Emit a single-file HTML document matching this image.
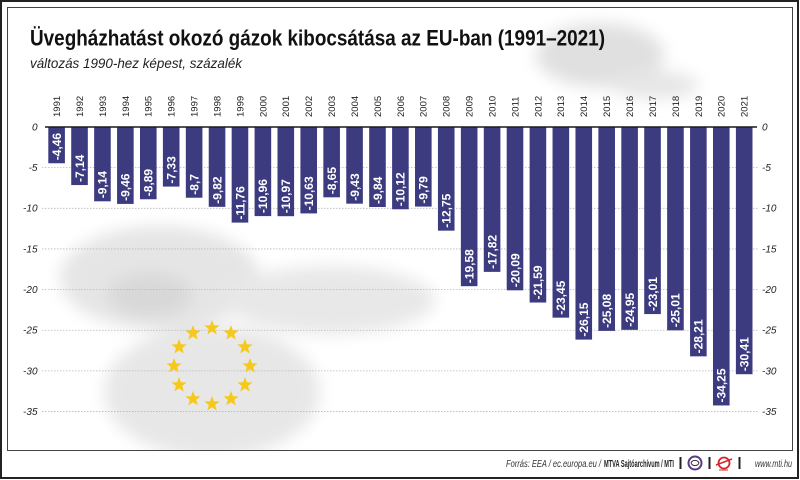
<!DOCTYPE html>
<html><head><meta charset="utf-8"><style>
html,body{margin:0;padding:0;background:#fff;width:800px;height:480px;overflow:hidden}
svg{display:block}
text{font-family:"Liberation Sans",Arial,sans-serif}
</style></head><body>
<svg width="800" height="480" viewBox="0 0 800 480" xmlns="http://www.w3.org/2000/svg">
<defs>
<filter id="bl" x="-50%" y="-50%" width="200%" height="200%"><feGaussianBlur stdDeviation="8"/></filter>
<clipPath id="cp"><rect x="8" y="8" width="784" height="442"/></clipPath>
<polygon id="st" points="0,-8 1.95,-2.7 7.6,-2.47 3.15,1.03 4.7,6.47 0,3.3 -4.7,6.47 -3.15,1.03 -7.6,-2.47 -1.95,-2.7" fill="#f6c819"/>
</defs>
<rect width="800" height="480" fill="#fff"/>
<!-- background blobs -->
<g clip-path="url(#cp)">
<g filter="url(#bl)">
<ellipse cx="160" cy="278" rx="100" ry="52" fill="#e5e5e5"/>
<ellipse cx="330" cy="300" rx="105" ry="34" fill="#e8e8e8"/>
<ellipse cx="212" cy="392" rx="108" ry="66" fill="#e7e7e7"/>
<ellipse cx="150" cy="295" rx="42" ry="22" fill="#d8d8d8"/>
<ellipse cx="600" cy="55" rx="64" ry="32" fill="#e0e0e0"/>
<ellipse cx="655" cy="85" rx="44" ry="14" fill="#e6e6e6"/>
</g>
</g>
<!-- frames -->
<rect x="1" y="1" width="797" height="477" fill="none" stroke="#222" stroke-width="2"/>
<rect x="7.5" y="7.5" width="785" height="443" fill="none" stroke="#444" stroke-width="1"/>
<!-- title -->
<text x="30" y="45.5" font-size="22" font-weight="bold" fill="#111" textLength="575" lengthAdjust="spacingAndGlyphs">Üvegházhatást okozó gázok kibocsátása az EU-ban (1991–2021)</text>
<text x="30" y="68" font-size="14" font-style="italic" fill="#222" textLength="212" lengthAdjust="spacingAndGlyphs">változás 1990-hez képest, százalék</text>
<!-- gridlines -->
<g stroke="#b8b8b8" stroke-width="0.8" stroke-dasharray="1.5,1.5">
<line x1="42" y1="167.65" x2="758" y2="167.65"/>
<line x1="42" y1="208.3" x2="758" y2="208.3"/>
<line x1="42" y1="248.95" x2="758" y2="248.95"/>
<line x1="42" y1="289.6" x2="758" y2="289.6"/>
<line x1="42" y1="330.25" x2="758" y2="330.25"/>
<line x1="42" y1="370.9" x2="758" y2="370.9"/>
<line x1="42" y1="411.55" x2="758" y2="411.55"/>
</g>
<!-- stars -->
<g>
<use href="#st" x="212" y="328"/><use href="#st" x="231" y="333.1"/><use href="#st" x="244.9" y="347"/>
<use href="#st" x="250" y="366"/><use href="#st" x="244.9" y="385"/><use href="#st" x="231" y="398.9"/>
<use href="#st" x="212" y="404"/><use href="#st" x="193" y="398.9"/><use href="#st" x="179.1" y="385"/>
<use href="#st" x="174" y="366"/><use href="#st" x="179.1" y="347"/><use href="#st" x="193" y="333.1"/>
</g>
<!-- axis labels -->
<g font-size="10" font-style="italic" fill="#222" text-anchor="end">
<text x="37.5" y="130.5">0</text><text x="37.5" y="171">-5</text><text x="37.5" y="211.7">-10</text>
<text x="37.5" y="252.4">-15</text><text x="37.5" y="293">-20</text><text x="37.5" y="333.7">-25</text>
<text x="37.5" y="374.4">-30</text><text x="37.5" y="415">-35</text>
</g>
<g font-size="10" font-style="italic" fill="#222">
<text x="762" y="130.5">0</text><text x="762" y="171">-5</text><text x="762" y="211.7">-10</text>
<text x="762" y="252.4">-15</text><text x="762" y="293">-20</text><text x="762" y="333.7">-25</text>
<text x="762" y="374.4">-30</text><text x="762" y="415">-35</text>
</g>
<!-- bars -->
<g fill="#3c3b7f">
<rect x="48.3" y="127" width="16.6" height="36.26"/>
<rect x="71.22" y="127" width="16.6" height="58.05"/>
<rect x="94.14" y="127" width="16.6" height="74.31"/>
<rect x="117.06" y="127" width="16.6" height="76.91"/>
<rect x="139.98" y="127" width="16.6" height="72.28"/>
<rect x="162.9" y="127" width="16.6" height="59.59"/>
<rect x="185.82" y="127" width="16.6" height="70.73"/>
<rect x="208.74" y="127" width="16.6" height="79.84"/>
<rect x="231.66" y="127" width="16.6" height="95.61"/>
<rect x="254.58" y="127" width="16.6" height="89.1"/>
<rect x="277.5" y="127" width="16.6" height="89.19"/>
<rect x="300.42" y="127" width="16.6" height="86.42"/>
<rect x="323.34" y="127" width="16.6" height="70.32"/>
<rect x="346.26" y="127" width="16.6" height="76.67"/>
<rect x="369.18" y="127" width="16.6" height="80"/>
<rect x="392.1" y="127" width="16.6" height="82.28"/>
<rect x="415.02" y="127" width="16.6" height="79.59"/>
<rect x="437.94" y="127" width="16.6" height="103.66"/>
<rect x="460.86" y="127" width="16.6" height="159.19"/>
<rect x="483.78" y="127" width="16.6" height="144.88"/>
<rect x="506.7" y="127" width="16.6" height="163.33"/>
<rect x="529.62" y="127" width="16.6" height="175.53"/>
<rect x="552.54" y="127" width="16.6" height="190.65"/>
<rect x="575.46" y="127" width="16.6" height="212.6"/>
<rect x="598.38" y="127" width="16.6" height="203.9"/>
<rect x="621.3" y="127" width="16.6" height="202.84"/>
<rect x="644.22" y="127" width="16.6" height="187.07"/>
<rect x="667.14" y="127" width="16.6" height="203.33"/>
<rect x="690.06" y="127" width="16.6" height="229.35"/>
<rect x="712.98" y="127" width="16.6" height="278.45"/>
<rect x="735.9" y="127" width="16.6" height="247.23"/>
</g>
<line x1="45" y1="127" x2="757" y2="127" stroke="#1a1a1a" stroke-width="1.6"/>
<!-- value labels -->
<g font-size="12" font-weight="bold" fill="#fff">
<text transform="translate(60.9,160.3) rotate(-90)">-4,46</text>
<text transform="translate(83.8,182) rotate(-90)">-7,14</text>
<text transform="translate(106.7,198.3) rotate(-90)">-9,14</text>
<text transform="translate(129.7,200.9) rotate(-90)">-9,46</text>
<text transform="translate(152.6,196.3) rotate(-90)">-8,89</text>
<text transform="translate(175.5,183.6) rotate(-90)">-7,33</text>
<text transform="translate(198.4,194.7) rotate(-90)">-8,7</text>
<text transform="translate(221.3,203.8) rotate(-90)">-9,82</text>
<text transform="translate(244.3,219.6) rotate(-90)">-11,76</text>
<text transform="translate(267.2,213.1) rotate(-90)">-10,96</text>
<text transform="translate(290.1,213.2) rotate(-90)">-10,97</text>
<text transform="translate(313,210.4) rotate(-90)">-10,63</text>
<text transform="translate(335.9,194.3) rotate(-90)">-8,65</text>
<text transform="translate(358.9,200.7) rotate(-90)">-9,43</text>
<text transform="translate(381.8,204) rotate(-90)">-9,84</text>
<text transform="translate(404.7,206.3) rotate(-90)">-10,12</text>
<text transform="translate(427.6,203.6) rotate(-90)">-9,79</text>
<text transform="translate(450.5,227.7) rotate(-90)">-12,75</text>
<text transform="translate(473.5,283.2) rotate(-90)">-19,58</text>
<text transform="translate(496.4,268.9) rotate(-90)">-17,82</text>
<text transform="translate(519.3,287.3) rotate(-90)">-20,09</text>
<text transform="translate(542.2,299.5) rotate(-90)">-21,59</text>
<text transform="translate(565.1,314.7) rotate(-90)">-23,45</text>
<text transform="translate(588.1,336.6) rotate(-90)">-26,15</text>
<text transform="translate(611,327.9) rotate(-90)">-25,08</text>
<text transform="translate(633.9,326.8) rotate(-90)">-24,95</text>
<text transform="translate(656.8,311.1) rotate(-90)">-23,01</text>
<text transform="translate(679.7,327.3) rotate(-90)">-25,01</text>
<text transform="translate(702.7,353.4) rotate(-90)">-28,21</text>
<text transform="translate(725.6,402.5) rotate(-90)">-34,25</text>
<text transform="translate(748.5,371.2) rotate(-90)">-30,41</text>
</g>
<!-- year labels -->
<g font-size="9.5" fill="#222">
<text transform="translate(60,117) rotate(-90)">1991</text>
<text transform="translate(82.9,117) rotate(-90)">1992</text>
<text transform="translate(105.8,117) rotate(-90)">1993</text>
<text transform="translate(128.8,117) rotate(-90)">1994</text>
<text transform="translate(151.7,117) rotate(-90)">1995</text>
<text transform="translate(174.6,117) rotate(-90)">1996</text>
<text transform="translate(197.5,117) rotate(-90)">1997</text>
<text transform="translate(220.4,117) rotate(-90)">1998</text>
<text transform="translate(243.4,117) rotate(-90)">1999</text>
<text transform="translate(266.3,117) rotate(-90)">2000</text>
<text transform="translate(289.2,117) rotate(-90)">2001</text>
<text transform="translate(312.1,117) rotate(-90)">2002</text>
<text transform="translate(335,117) rotate(-90)">2003</text>
<text transform="translate(358,117) rotate(-90)">2004</text>
<text transform="translate(380.9,117) rotate(-90)">2005</text>
<text transform="translate(403.8,117) rotate(-90)">2006</text>
<text transform="translate(426.7,117) rotate(-90)">2007</text>
<text transform="translate(449.6,117) rotate(-90)">2008</text>
<text transform="translate(472.6,117) rotate(-90)">2009</text>
<text transform="translate(495.5,117) rotate(-90)">2010</text>
<text transform="translate(518.4,117) rotate(-90)">2011</text>
<text transform="translate(541.3,117) rotate(-90)">2012</text>
<text transform="translate(564.2,117) rotate(-90)">2013</text>
<text transform="translate(587.2,117) rotate(-90)">2014</text>
<text transform="translate(610.1,117) rotate(-90)">2015</text>
<text transform="translate(633,117) rotate(-90)">2016</text>
<text transform="translate(655.9,117) rotate(-90)">2017</text>
<text transform="translate(678.8,117) rotate(-90)">2018</text>
<text transform="translate(701.8,117) rotate(-90)">2019</text>
<text transform="translate(724.7,117) rotate(-90)">2020</text>
<text transform="translate(747.6,117) rotate(-90)">2021</text>
</g>
<!-- footer -->
<text x="506" y="467" font-size="10" font-style="italic" fill="#333" textLength="95" lengthAdjust="spacingAndGlyphs">Forrás: EEA / ec.europa.eu /</text>
<text x="604" y="467" font-size="10" font-weight="bold" fill="#222" textLength="70" lengthAdjust="spacingAndGlyphs">MTVA Sajtóarchívum / MTI</text>
<rect x="679.5" y="457" width="2" height="12" fill="#222"/>
<circle cx="695" cy="463" r="6.5" fill="#fff" stroke="#5a3a86" stroke-width="2"/>
<ellipse cx="695" cy="463" rx="3.8" ry="2.6" fill="#fff" stroke="#333" stroke-width="1"/>
<rect x="708.5" y="457" width="2" height="12" fill="#222"/>
<circle cx="724" cy="463" r="5.5" fill="none" stroke="#d6262c" stroke-width="1.8"/>
<line x1="716" y1="465" x2="732" y2="459" stroke="#d6262c" stroke-width="1.5"/>
<line x1="719" y1="470" x2="728" y2="470" stroke="#d6262c" stroke-width="1"/>
<rect x="738.5" y="457" width="2" height="12" fill="#222"/>
<text x="755" y="467" font-size="10" font-style="italic" fill="#333" textLength="37" lengthAdjust="spacingAndGlyphs">www.mti.hu</text>
</svg>
</body></html>
